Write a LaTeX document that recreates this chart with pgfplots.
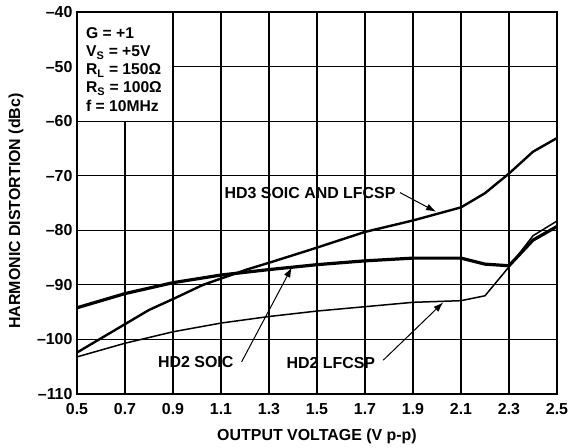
\documentclass[border=0pt]{standalone}
\usepackage{fontspec}
\setmainfont{Liberation Sans}
\usepackage{pgfplots}
\pgfplotsset{compat=1.18}
\usetikzlibrary{arrows.meta}

\pgfplotstableread{
x y
0.5 -102.4
0.8 -94.6
0.9 -92.6
1.025 -90.0
1.207 -87.2
1.304 -85.9
1.47 -83.6
1.7 -80.3
1.9 -78.2
2.1 -75.8
2.2 -73.2
2.3 -69.6
2.4 -65.6
2.5 -63.1
}\hdthree

\pgfplotstableread{
x y
0.5 -94.2
0.7 -91.6
0.9 -89.6
1.1 -88.2
1.3 -87.2
1.5 -86.3
1.7 -85.6
1.9 -85.1
2.1 -85.1
2.2 -86.2
2.3 -86.5
2.4 -81.8
2.5 -79.3
}\hdtwosoic

\pgfplotstableread{
x y
0.5 -103.2
0.7 -100.7
0.9 -98.6
1.1 -97.0
1.3 -95.8
1.5 -94.8
1.7 -94.0
1.9 -93.2
2.1 -92.9
2.2 -92.0
2.3 -86.7
2.4 -81.0
2.5 -78.3
}\hdtwolfcsp

\begin{document}
\begin{tikzpicture}
\begin{axis}[
  at={(0,0)}, anchor=south west,
  scale only axis, width=480bp, height=382bp,
  xmin=0.5, xmax=2.5, ymin=-110, ymax=-40,
  xtick={0.5,0.7,0.9,1.1,1.3,1.5,1.7,1.9,2.1,2.3,2.5},
  xticklabels={0.5,0.7,0.9,1.1,1.3,1.5,1.7,1.9,2.1,2.3,2.5},
  ytick={-110,-100,-90,-80,-70,-60,-50,-40},
  yticklabels={–110,–100,–90,–80,–70,–60,–50,–40},
  grid=major,
  major grid style={black, line width=1.1bp},
  axis line style={black, line width=1.8bp},
  major tick length=0pt,
  tick style={draw=none},
  tick label style={font=\fontsize{16}{18}\selectfont\bfseries},
  xticklabel style={yshift=-6bp},
  yticklabel style={xshift=-1bp},
  label style={font=\fontsize{16}{18}\selectfont\bfseries},
  xlabel={OUTPUT VOLTAGE (V p-p)},
  ylabel={HARMONIC DISTORTION (dBc)},
  xlabel style={at={(axis description cs:0.5,-0.11)}, anchor=center},
  ylabel style={at={(axis description cs:-0.127,0.479)}, anchor=center},
]
\fill[white] ([xshift=0.9bp,yshift=-0.9bp]axis cs:0.5,-40) rectangle ([xshift=-0.55bp,yshift=0.55bp]axis cs:0.9,-60);
\node[anchor=north west, inner sep=0pt, align=left,
      font=\fontsize{15.7}{18.3}\selectfont\bfseries]
  at ([xshift=9bp,yshift=-15bp]axis cs:0.5,-40)
  {G = +1\\ V\textsubscript{S} = +5V\\ R\textsubscript{L} = 150Ω\\ R\textsubscript{S} = 100Ω\\ f = 10MHz};

\addplot[black, line width=2.4bp, line join=round] table[x=x,y=y] {\hdthree};
\addplot[black, line width=3.2bp, line join=round] table[x=x,y=y] {\hdtwosoic};
\addplot[black, line width=1.5bp, line join=round] table[x=x,y=y] {\hdtwolfcsp};

\node[font=\fontsize{16}{18}\selectfont\bfseries, inner sep=0pt] at (axis cs:1.471,-73.17) {HD3 SOIC AND LFCSP};
\node[font=\fontsize{16}{18}\selectfont\bfseries, inner sep=0pt] at (axis cs:0.995,-104.1) {HD2 SOIC};
\node[font=\fontsize{16}{18}\selectfont\bfseries, inner sep=0pt] at (axis cs:1.5575,-104.4) {HD2 LFCSP};

\draw[black, line width=1bp, -{Latex[length=10bp,width=7bp]}] (axis cs:1.846,-73.1) -- (axis cs:1.996,-76.6);
\draw[black, line width=1bp, -{Latex[length=10bp,width=7bp]}] (axis cs:1.186,-104.1) -- (axis cs:1.395,-86.8);
\draw[black, line width=1bp, -{Latex[length=10bp,width=7bp]}] (axis cs:1.776,-103.8) -- (axis cs:2.026,-93.2);
\end{axis}
\pgfresetboundingbox
\useasboundingbox (-77bp,-54bp) rectangle (497bp,394bp);
\end{tikzpicture}
\end{document}
